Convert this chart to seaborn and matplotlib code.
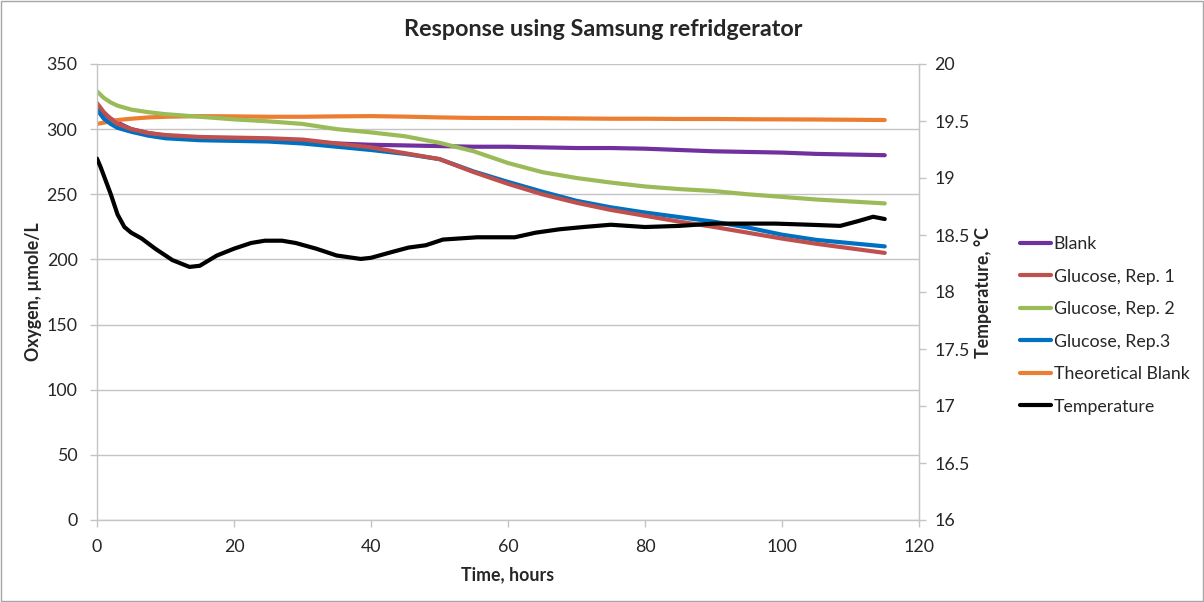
import matplotlib
matplotlib.use("Agg")
import matplotlib.pyplot as plt
from matplotlib.patches import Rectangle
import seaborn as sns
import pandas as pd

# Oxygen readings (umole/L) against elapsed time (hours)
time_h = [0, 1, 2, 3, 5, 7.5, 10, 15, 20, 25, 30, 35, 40, 45, 50, 55,
          60, 65, 70, 75, 80, 85, 90, 95, 100, 105, 110, 115]
blank = [318, 312, 308, 305, 300, 297, 295, 293, 292, 291.5, 290.5, 289, 288, 287.5,
         287, 286.5, 286.5, 286, 285.5, 285.5, 285, 284, 283, 282.5, 282, 281, 280.5, 280]
glucose_rep1 = [320, 313, 308, 304, 300, 297, 295.5, 294, 293.5, 293, 292, 289, 286, 281.5,
                277, 267, 258, 250, 243.5, 238, 233.5, 229, 225, 220.5, 216, 212, 208.5, 205]
glucose_rep2 = [329, 324, 320.5, 318, 315, 313, 311.5, 309.5, 307.5, 306, 304, 300, 297.5, 294.5,
                289.5, 283, 274, 267, 262.5, 259, 256, 254, 252.5, 250, 248, 246, 244.5, 243]
glucose_rep3 = [315, 308, 304, 301, 298, 295, 293, 291.5, 291, 290.5, 289, 286.5, 284, 281,
                277, 267.5, 259.5, 252, 245, 240, 236, 232.5, 229, 224.5, 219, 215, 212.5, 210]
theoretical_blank = [304, 305, 306, 307, 308, 309, 309.5, 310, 309.8, 309.5, 309.5, 309.8, 310, 309.6,
                     309, 308.6, 308.5, 308.4, 308.2, 308, 308, 307.8, 307.8, 307.6, 307.5, 307.4,
                     307.2, 307]

# Refrigerator temperature (deg C)
temp_time_h = [0, 0.5, 1, 2, 3, 4, 5, 6.5, 8.5, 11, 13.5, 15, 17.5, 20, 22.5, 24.5, 27, 29,
               32, 35, 38.5, 40, 43, 45.5, 48, 50.5, 53, 55.5, 58, 61, 64, 67.5, 71, 75, 80,
               85, 90, 94, 99, 104, 108.5, 111, 113.3, 115]
temperature = [19.17, 19.10, 19.02, 18.86, 18.68, 18.57, 18.52, 18.47, 18.38, 18.28, 18.22,
               18.23, 18.32, 18.38, 18.43, 18.45, 18.45, 18.43, 18.38, 18.32, 18.29, 18.30,
               18.35, 18.39, 18.41, 18.46, 18.47, 18.48, 18.48, 18.48, 18.52, 18.55, 18.57,
               18.59, 18.57, 18.58, 18.60, 18.60, 18.60, 18.59, 18.58, 18.62, 18.66, 18.64]

series_names = ["Blank", "Glucose, Rep. 1", "Glucose, Rep. 2", "Glucose, Rep.3",
                "Theoretical Blank"]
series_values = [blank, glucose_rep1, glucose_rep2, glucose_rep3, theoretical_blank]
series_colors = ["#7030A0", "#C0504D", "#9BBB59", "#0070C0", "#ED7D31"]

oxygen = pd.concat(
    [pd.DataFrame({"time": time_h, "oxygen": vals, "series": name})
     for name, vals in zip(series_names, series_values)],
    ignore_index=True,
)
temp_df = pd.DataFrame({"time": temp_time_h, "temperature": temperature})

sns.set_style("white")
plt.rcParams["font.family"] = ["Lato", "DejaVu Sans"]
TEXT = "#262626"
GRID = "#c4c4c4"
FS = 12.8

fig = plt.figure(figsize=(12.04, 6.02), dpi=100)
ax = fig.add_axes([97 / 1204, 82 / 602, 822 / 1204, 456 / 602])

# draw order: blank beneath the glucose replicates
order = ["Blank", "Theoretical Blank", "Glucose, Rep. 2", "Glucose, Rep.3", "Glucose, Rep. 1"]
palette = dict(zip(series_names, series_colors))
for name in order:
    sns.lineplot(data=oxygen[oxygen["series"] == name], x="time", y="oxygen",
                 color=palette[name], linewidth=3.0, ax=ax, label=name, legend=False)

ax.set_xlim(0, 120)
ax.set_ylim(0, 350)
ax.set_xticks(range(0, 121, 20))
ax.set_yticks(range(0, 351, 50))
ax.yaxis.grid(True, color=GRID, linewidth=1)
ax.xaxis.grid(False)
for side in ["left", "bottom", "right"]:
    ax.spines[side].set_color(GRID)
    ax.spines[side].set_linewidth(1)
ax.spines["top"].set_visible(False)
ax.tick_params(axis="both", colors=GRID, labelcolor=TEXT, labelsize=FS,
               length=5, width=1, direction="out")
ax.tick_params(axis="x", pad=9, bottom=True)
ax.tick_params(axis="y", pad=9, left=True)
ax.set_xlabel("Time, hours", fontsize=FS, fontweight="bold", color=TEXT, labelpad=8)
ax.set_ylabel("Oxygen, µmole/L", fontsize=FS, fontweight="bold", color=TEXT, labelpad=3)

ax2 = ax.twinx()
sns.lineplot(data=temp_df, x="time", y="temperature", color="black", linewidth=3.0,
             ax=ax2, label="Temperature", legend=False)
ax2.set_ylim(16, 20)
ax2.set_yticks([16, 16.5, 17, 17.5, 18, 18.5, 19, 19.5, 20])
ax2.set_yticklabels(["16", "16.5", "17", "17.5", "18", "18.5", "19", "19.5", "20"])
for side in ["left", "bottom", "top"]:
    ax2.spines[side].set_visible(False)
ax2.spines["right"].set_color(GRID)
ax2.tick_params(axis="y", colors=GRID, labelcolor=TEXT, labelsize=FS,
                length=5, width=1, direction="out", right=True, pad=6)
ax2.set_ylabel("Temperature, °C", fontsize=FS, fontweight="bold", color=TEXT, labelpad=3)
ax2.grid(False)

fig.suptitle("Response using Samsung refridgerator", x=603 / 1204, y=1 - 19 / 602,
             fontsize=16.8, fontweight="bold", color=TEXT, va="top")

handles, labels = [], []
for a in (ax, ax2):
    h, l = a.get_legend_handles_labels()
    handles += h
    labels += l
legend_order = series_names + ["Temperature"]
lookup = dict(zip(labels, handles))
leg = fig.legend([lookup[n] for n in legend_order], legend_order,
                 loc="upper left", bbox_to_anchor=(1020 / 1204, 1 - 236 / 602),
                 frameon=False, fontsize=FS, labelspacing=0.93, handlelength=1.75,
                 handletextpad=0.15, borderpad=0, borderaxespad=0)
for text in leg.get_texts():
    text.set_color(TEXT)

# thin frame round the chart area
fig.add_artist(Rectangle((1 / 1204, 1 / 602), 1 - 2 / 1204, 1 - 2 / 602,
                         transform=fig.transFigure, fill=False,
                         edgecolor="#a6a6a6", linewidth=1))

fig.savefig("out.png", dpi=100)
